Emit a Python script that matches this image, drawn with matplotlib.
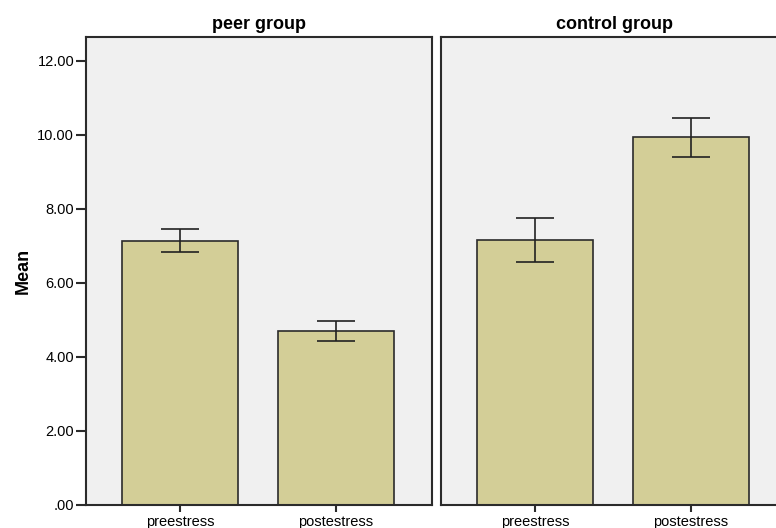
import matplotlib
matplotlib.use("Agg")
import matplotlib.pyplot as plt

plt.rcParams['font.family'] = ['Liberation Sans', 'DejaVu Sans']

groups = ["peer group", "control group"]
conditions = ["preestress", "postestress"]
means = {
    "peer group": [7.14, 4.70],
    "control group": [7.16, 9.93],
}
err_low = {
    "peer group": [6.83, 4.43],
    "control group": [6.57, 9.39],
}
err_high = {
    "peer group": [7.45, 4.96],
    "control group": [7.75, 10.45],
}
y_ticks = [0, 2, 4, 6, 8, 10, 12]
y_tick_labels = [".00", "2.00", "4.00", "6.00", "8.00", "10.00", "12.00"]

W, H = 776, 528
fig = plt.figure(figsize=(W / 100, H / 100), dpi=100)

bar_color = "#D3CE97"
panel_bg = "#F0F0F0"
edge = "#2b2b2b"

panel_lefts = [86, 441]
panel_w, panel_top, panel_bot = 346, 37, 505

for i, (g, px) in enumerate(zip(groups, panel_lefts)):
    ax = fig.add_axes([px / W, 1 - panel_bot / H, panel_w / W, (panel_bot - panel_top) / H])
    ax.set_facecolor(panel_bg)
    x = list(range(len(conditions)))
    m = means[g]
    yerr = [[m[k] - err_low[g][k] for k in x], [err_high[g][k] - m[k] for k in x]]
    ax.bar(x, m, width=0.744, color=bar_color, edgecolor=edge, linewidth=1.2, zorder=2)
    ax.errorbar(x, m, yerr=yerr, fmt="none", ecolor="#222222", elinewidth=1.2,
                capsize=14, capthick=1.2, zorder=3)
    ax.set_xlim(-0.603, 1.615)
    ax.set_ylim(0, 12.64)
    ax.set_xticks(x)
    ax.set_xticklabels(conditions, fontsize=10.5)
    ax.tick_params(axis="x", length=5, width=1.5, color=edge, pad=2)
    ax.set_yticks(y_ticks)
    if i == 0:
        ax.set_yticklabels(y_tick_labels, fontsize=10.5)
        ax.tick_params(axis="y", length=7, width=1.5, color=edge, pad=1.5)
        ax.set_ylabel("Mean", fontsize=13, fontweight="bold", labelpad=4)
    else:
        ax.tick_params(axis="y", length=0, labelleft=False)
    for s in ax.spines.values():
        s.set_linewidth(1.5)
        s.set_color(edge)
    ax.set_title(g, fontsize=13, fontweight="bold", pad=6)

fig.savefig("out.png", dpi=100, facecolor="white")
